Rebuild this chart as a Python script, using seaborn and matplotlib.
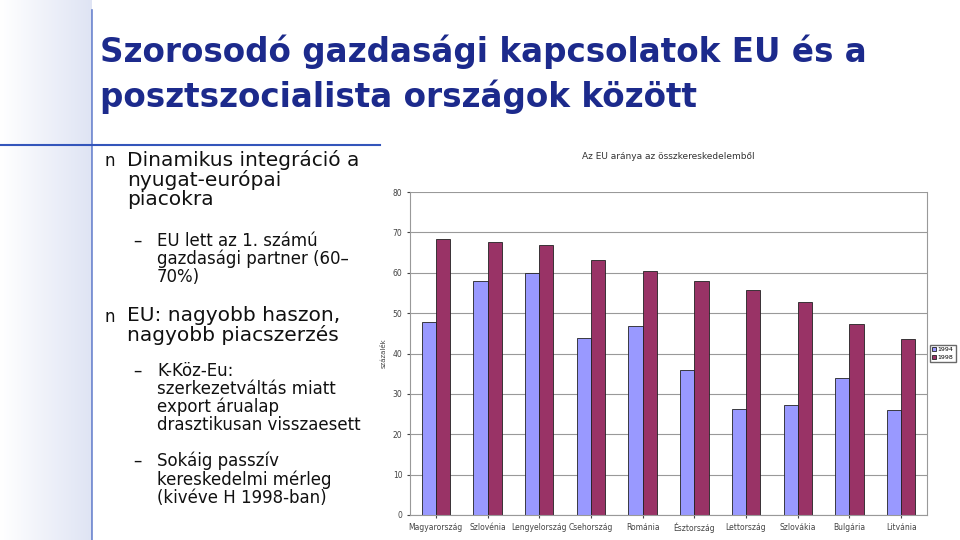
import matplotlib
matplotlib.use("Agg")
import matplotlib.pyplot as plt
import seaborn as sns
import pandas as pd
import numpy as np

countries = ["Magyarország", "Szlovénia", "Lengyelország", "Csehország", "Románia",
             "Észtország", "Lettország", "Szlovákia", "Bulgária", "Litvánia"]
v1994 = [47.8, 57.9, 59.9, 43.8, 46.8, 35.9, 26.2, 27.2, 33.9, 26.0]
v1998 = [68.3, 67.6, 66.8, 63.1, 60.4, 57.9, 55.7, 52.7, 47.3, 43.6]
years = ["1994", "1998"]
yticks = [0, 10, 20, 30, 40, 50, 60, 70, 80]

df = pd.DataFrame({"ország": countries * 2,
                   "év": [years[0]] * 10 + [years[1]] * 10,
                   "érték": v1994 + v1998})

fig = plt.figure(figsize=(9.6, 5.4), dpi=100)
fig.patch.set_facecolor("white")

bg = fig.add_axes([0, 0, 0.095, 1])
grad = np.linspace(0, 1, 100).reshape(1, -1)
bg.imshow(grad, aspect="auto", cmap=matplotlib.colors.LinearSegmentedColormap.from_list(
    "g", ["#ffffff", "#dfe4f4"]), extent=[0, 1, 0, 1])
bg.axis("off")

line_ax = fig.add_axes([0, 0, 1, 1], facecolor="none")
line_ax.set_xlim(0, 960); line_ax.set_ylim(540, 0); line_ax.axis("off")
line_ax.plot([0, 380], [145, 145], color="#3355bb", lw=1.5)
line_ax.plot([92, 92], [10, 540], color="#3355bb", lw=1.2, alpha=0.7)

fig.text(100, 540 - 52, "Szorosodó gazdasági kapcsolatok EU és a", transform=None,
         fontsize=23.5, fontweight="bold", color="#1c2a8c", va="center", family="DejaVu Sans")
fig.text(100, 540 - 97, "posztszocialista országok között", transform=None,
         fontsize=23.5, fontweight="bold", color="#1c2a8c", va="center", family="DejaVu Sans")

def t(x, y, s, size):
    fig.text(x, 540 - y, s, transform=None, fontsize=size, va="top", color="#111111",
             family="DejaVu Sans", linespacing=1.0)

t(105, 152, "n", 12)
t(127, 150, "Dinamikus integráció a\nnyugat-európai\npiacokra", 14.5)
t(133, 232, "–", 12)
t(157, 232, "EU lett az 1. számú\ngazdasági partner (60–\n70%)", 12)
t(105, 308, "n", 12)
t(127, 306, "EU: nagyobb haszon,\nnagyobb piacszerzés", 14.5)
t(133, 362, "–", 12)
t(157, 362, "K-Köz-Eu:\nszerkezetváltás miatt\nexport árualap\ndrasztikusan visszaesett", 12)
t(133, 452, "–", 12)
t(157, 452, "Sokáig passzív\nkereskedelmi mérleg\n(kivéve H 1998-ban)", 12)

ax = fig.add_axes([410 / 960, 25 / 540, 517 / 960, 323 / 540])
sns.barplot(data=df, x="ország", y="érték", hue="év", palette=["#9999ff", "#993366"],
            edgecolor="#222222", linewidth=0.6, width=0.55, ax=ax, saturation=1)
ax.set_ylim(0, 80)
ax.set_yticks(yticks)
ax.grid(axis="y", color="#999999", lw=0.8)
ax.set_axisbelow(True)
ax.tick_params(labelsize=5.5, colors="#444444", length=2)
ax.spines["top"].set_visible(False)
for s in ["left", "bottom", "right"]:
    ax.spines[s].set_color("#999999")
ax.set_xlabel("")
ax.set_ylabel("százalék", fontsize=5, color="#444444")
ax.set_title("Az EU aránya az összkereskedelemből", fontsize=6.5, pad=24, color="#333333")
ax.legend(loc="center left", bbox_to_anchor=(1.004, 0.5), fontsize=4.5,
          frameon=True, fancybox=False, edgecolor="#444444", handlelength=0.6,
          handletextpad=0.3, borderpad=0.3, borderaxespad=0.2)

fig.savefig("out.png", dpi=100)
